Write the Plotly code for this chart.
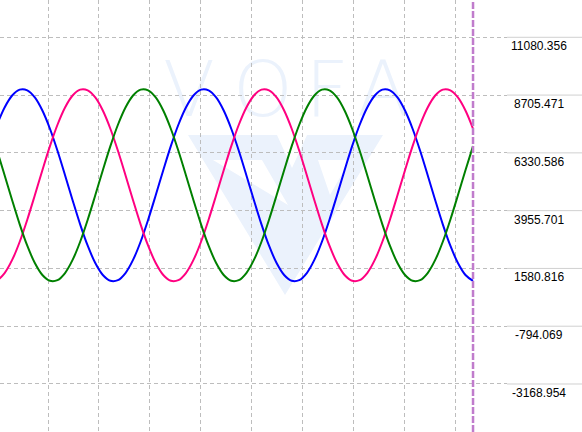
import base64
import plotly.graph_objects as go

# ---- data ----
sample = list(range(65))  # sample index, the last one sits at the cursor line

ch_blue = [6607, 7486, 8196, 8688, 8928,
           8901, 8608, 8070, 7322, 6416, 5413, 4382, 3393, 2514, 1804, 1312, 1072,
           1099, 1392, 1930, 2678, 3584, 4587, 5618, 6607, 7486, 8196, 8688, 8928,
           8901, 8608, 8070, 7322, 6416, 5413, 4382, 3393, 2514, 1804, 1312, 1072,
           1099, 1392, 1930, 2678, 3584, 4587, 5618, 6607, 7486, 8196, 8688, 8928,
           8901, 8608, 8070, 7322, 6416, 5413, 4382, 3393, 2514, 1804, 1312, 1072]
ch_pink = [1072, 1099, 1392, 1930, 2678, 3584, 4587, 5618, 6607, 7486, 8196, 8688, 8928,
           8901, 8608, 8070, 7322, 6416, 5413, 4382, 3393, 2514, 1804, 1312, 1072,
           1099, 1392, 1930, 2678, 3584, 4587, 5618, 6607, 7486, 8196, 8688, 8928,
           8901, 8608, 8070, 7322, 6416, 5413, 4382, 3393, 2514, 1804, 1312, 1072,
           1099, 1392, 1930, 2678, 3584, 4587, 5618, 6607, 7486, 8196, 8688, 8928,
           8901, 8608, 8070, 7322]
ch_green = [7322, 6416, 5413, 4382, 3393, 2514, 1804, 1312, 1072,
            1099, 1392, 1930, 2678, 3584, 4587, 5618, 6607, 7486, 8196, 8688, 8928,
            8901, 8608, 8070, 7322, 6416, 5413, 4382, 3393, 2514, 1804, 1312, 1072,
            1099, 1392, 1930, 2678, 3584, 4587, 5618, 6607, 7486, 8196, 8688, 8928,
            8901, 8608, 8070, 7322, 6416, 5413, 4382, 3393, 2514, 1804, 1312, 1072,
            1099, 1392, 1930, 2678, 3584, 4587, 5618, 6607]

y_ticks = [-3168.954, -794.069, 1580.816, 3955.701, 6330.586, 8705.471, 11080.356]
y_tick_text = ["-3168.954", "-794.069", "1580.816", "3955.701", "6330.586", "8705.471", "11080.356"]

cursor_sample = 64

# ---- layout constants ----
W, H = 582, 432
PLOT_W = 507
MARGIN_R = W - PLOT_W
PX_PER_SAMPLE = 7.555
X_RANGE = [1.39, 1.39 + PLOT_W / PX_PER_SAMPLE]
Y_RANGE = [-5142, 12613]
GRID = "#bdbdbd"
WM = "#ebf2fc"

# watermark as an SVG image placed under the grid
svg = f'''<svg xmlns="http://www.w3.org/2000/svg" width="{W}" height="{H}" viewBox="0 0 {W} {H}">
<path fill="{WM}" fill-rule="evenodd" d="M188 135 L383 135 L285 295 Z M213 160 L262 160 L288 205 Z M277 135 L307 135 L292 168 Z M318 160 L350 160 L330 195 Z"/>
<g fill="{WM}" font-family="DejaVu Sans, Liberation Sans, sans-serif" font-weight="300" font-size="76" text-anchor="middle">
<text x="189" y="116">V</text><text x="263" y="116">O</text><text x="327" y="116">F</text><text x="383" y="116">A</text>
</g></svg>'''
wm_src = "data:image/svg+xml;base64," + base64.b64encode(svg.encode()).decode()

fig = go.Figure()
for vals, col in ((ch_blue, "#0000ff"), (ch_pink, "#ff0080"), (ch_green, "#008000")):
    fig.add_trace(go.Scatter(x=sample, y=vals, mode="lines",
                             line=dict(color=col, width=2, shape="spline", smoothing=1),
                             hoverinfo="skip", showlegend=False))

# cursor line
fig.add_shape(type="line", xref="x", yref="paper", x0=cursor_sample, x1=cursor_sample,
              y0=0, y1=1, line=dict(color="#c07ccc", width=2.5, dash="7px,2px"))

# solid extension of the horizontal grid lines into the label area + labels
for v, t in zip(y_ticks, y_tick_text):
    fig.add_shape(type="line", xref="paper", yref="y", x0=1, x1=W / PLOT_W, y0=v, y1=v,
                  line=dict(color="#d0d0d0", width=1))
    fig.add_annotation(xref="paper", yref="y", x=539 / PLOT_W, y=v, text=t,
                       showarrow=False, xanchor="center", yanchor="top",
                       font=dict(family="Liberation Sans, Arial, sans-serif", size=12, color="#000000"))

fig.add_layout_image(dict(source=wm_src, xref="paper", yref="paper", x=0, y=1,
                          sizex=W / PLOT_W, sizey=1, sizing="stretch", layer="below",
                          xanchor="left", yanchor="top"))

fig.update_layout(
    width=W, height=H, margin=dict(l=0, r=MARGIN_R, t=0, b=0),
    paper_bgcolor="white", plot_bgcolor="rgba(0,0,0,0)",
    xaxis=dict(range=X_RANGE, showticklabels=False, ticks="", zeroline=False, showline=False,
               showgrid=True, gridcolor=GRID, griddash="4px,3px", gridwidth=1,
               tick0=7.743, dtick=6.736),
    yaxis=dict(range=Y_RANGE, side="right", tickvals=y_ticks, showticklabels=False, ticks="",
               zeroline=False, showline=False, showgrid=True, gridcolor=GRID,
               griddash="4px,3px", gridwidth=1),
)

fig.write_html("out.html")
